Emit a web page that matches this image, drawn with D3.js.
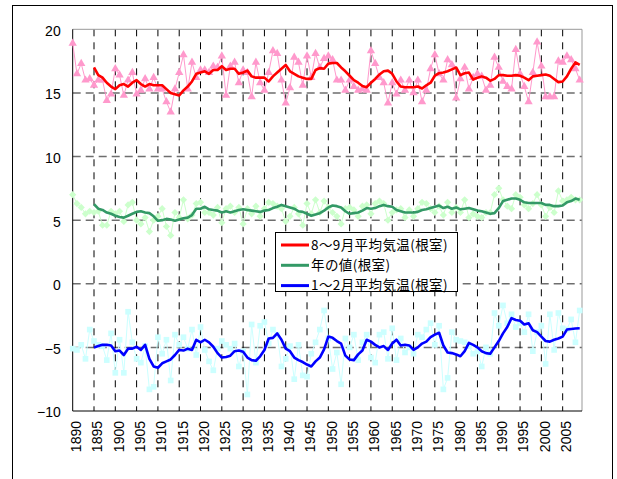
<!DOCTYPE html>
<html>
<head>
<meta charset="utf-8">
<script src="https://cdn.jsdelivr.net/npm/d3@7"></script>
<style>
  body { margin: 0; background: #fff; }
</style>
</head>
<body>
<script>

var firstYear = 1890, lastYear = 2009, avgStart = 1895;

// 8~9月平均気温 (raw, 1890-2009)
var augSep = [
 18.9,16.5,17.3,16.0,16.1,15.6,16.0,16.0,14.4,14.9,
 16.9,16.4,14.8,16.0,16.6,14.9,15.2,16.1,15.3,16.2,
 15.3,15.3,14.3,13.5,15.3,16.6,18.0,15.3,17.4,16.2,
 16.8,16.8,16.6,17.1,17.0,17.9,14.8,17.1,17.4,15.8,
 16.8,16.6,14.7,17.4,15.8,15.2,16.6,18.3,18.1,16.0,
 14.2,15.4,17.8,17.4,15.6,17.9,16.2,18.1,17.0,17.7,
 17.9,17.6,16.0,16.0,15.2,16.0,15.5,15.2,15.3,15.2,
 18.3,17.3,16.2,15.8,14.2,15.8,14.9,16.0,15.2,16.0,
 15.0,16.0,14.3,15.2,16.9,18.0,16.5,16.0,17.6,17.2,
 14.6,16.1,17.0,15.3,16.2,16.5,16.3,15.2,15.6,17.8,
 17.0,15.9,15.5,15.3,18.4,16.5,15.5,14.3,16.6,19.0,
 17.1,14.7,14.7,14.7,17.5,17.4,17.9,17.6,16.9,16.0];

// smoothed line, 1895-2009
var augSepAvg = [
 17.0,16.4,16.2,15.8,15.5,15.3,15.6,15.7,15.5,15.8,
 16.0,15.7,15.5,15.7,15.6,15.6,15.6,15.3,15.0,14.9,
 14.8,15.2,15.5,15.9,16.5,16.6,16.7,16.5,16.8,16.8,
 17.1,16.8,16.9,16.9,16.5,16.6,16.75,16.3,16.2,16.2,
 16.2,15.9,16.3,16.6,16.9,17.2,16.7,16.5,16.3,16.2,
 16.1,16.1,16.8,16.95,16.9,17.3,17.35,17.35,17.0,16.7,
 16.35,16.0,15.8,15.55,15.45,15.8,16.1,16.45,16.7,16.75,
 16.5,15.9,15.5,15.45,15.45,15.45,15.5,15.35,15.6,15.8,
 16.35,16.55,16.6,16.7,16.85,17.0,16.4,16.55,16.6,16.05,
 16.2,16.3,16.2,15.95,16.1,16.4,16.4,16.35,16.35,16.4,
 16.35,16.2,16.0,16.3,16.35,16.4,16.45,16.35,16.1,15.85,
 15.9,16.3,16.9,17.4,17.2];

// 年の値 (raw)
var annual = [
 7.0,6.3,6.0,5.5,5.7,5.6,5.7,4.6,4.6,5.7,
 5.5,5.7,4.9,6.2,6.4,5.0,4.7,5.2,4.1,5.0,
 5.3,5.9,4.5,3.8,5.6,5.2,6.6,5.1,5.4,6.3,
 6.4,5.6,5.6,5.4,6.0,4.8,5.9,6.1,5.6,6.0,
 4.7,5.9,5.5,6.1,5.3,5.9,6.4,6.3,6.1,5.9,
 4.9,5.3,6.0,5.5,4.6,6.3,5.5,6.6,5.6,6.5,
 6.0,5.6,5.3,4.7,5.9,6.0,5.8,5.3,6.1,6.2,
 5.5,6.3,6.5,6.3,5.0,5.6,5.8,5.9,5.2,5.8,
 5.3,5.9,6.4,6.3,5.9,5.6,6.1,5.4,6.4,5.6,
 6.0,5.6,6.6,5.2,5.5,5.3,5.2,5.6,5.6,7.0,
 7.5,6.6,6.1,5.9,7.0,6.8,6.2,5.9,6.3,7.0,
 6.2,5.3,6.0,5.6,7.3,6.5,6.6,6.8,6.6,6.6];

var annualAvg = [
 6.25,5.9,5.8,5.6,5.5,5.35,5.25,5.2,5.35,5.5,
 5.65,5.7,5.6,5.55,5.3,4.95,5.0,5.1,5.05,4.95,
 5.05,5.15,5.2,5.4,5.9,5.9,6.05,5.85,5.8,5.75,
 5.6,5.7,5.6,5.7,5.8,5.85,5.8,5.75,5.7,5.65,
 5.75,5.8,5.95,6.05,6.2,6.1,6.0,5.9,5.7,5.65,
 5.5,5.35,5.45,5.55,5.75,6.0,6.15,6.1,6.0,5.7,
 5.5,5.55,5.6,5.75,5.95,5.9,5.95,6.1,6.2,6.1,
 6.05,5.8,5.7,5.6,5.6,5.6,5.65,5.8,5.85,5.95,
 6.05,6.15,5.95,6.05,5.9,6.0,5.85,5.9,5.95,5.85,
 5.75,5.7,5.6,5.5,5.55,5.95,6.5,6.6,6.7,6.7,
 6.6,6.4,6.35,6.35,6.35,6.35,6.2,6.2,6.1,6.1,
 6.15,6.4,6.5,6.7,6.6];

// 1~2月平均気温 (raw)
var janFeb = [
 -5.1,-5.2,-4.8,-5.9,-3.6,-4.5,-4.8,-4.9,-6.0,-3.9,
 -7.0,-4.4,-7.0,-2.2,-4.6,-5.9,-6.2,-4.9,-8.3,-8.1,
 -4.2,-5.5,-4.4,-7.6,-4.0,-4.8,-4.2,-5.1,-3.6,-5.6,
 -3.4,-5.2,-6.1,-6.8,-5.1,-4.5,-4.8,-5.1,-4.7,-6.5,
 -5.3,-8.7,-3.2,-6.2,-3.3,-3.0,-4.7,-3.6,-4.0,-6.5,
 -5.9,-4.9,-7.5,-4.8,-7.2,-7.3,-5.5,-4.6,-3.6,-2.1,
 -4.3,-6.7,-5.4,-7.9,-4.3,-5.0,-4.0,-6.0,-4.6,-4.0,
 -5.8,-6.2,-4.0,-3.8,-5.9,-3.5,-6.0,-4.3,-5.4,-5.0,
 -5.5,-4.0,-4.2,-3.6,-3.1,-4.8,-3.3,-8.3,-7.4,-3.8,
 -4.4,-4.5,-4.6,-4.9,-5.5,-5.3,-6.5,-5.0,-5.5,-2.3,
 -3.3,-1.7,-3.1,-2.4,-3.4,-3.1,-3.8,-2.4,-5.3,-3.8,
 -3.3,-6.3,-2.4,-5.2,-2.3,-3.5,-3.6,-2.8,-4.6,-2.1];

var janFebAvg = [
 -5.0,-4.9,-4.8,-4.8,-4.85,-5.3,-5.25,-5.6,-5.1,-5.1,
 -4.95,-5.2,-4.8,-5.9,-6.5,-6.6,-6.25,-6.1,-5.95,-5.6,
 -5.2,-5.25,-5.1,-5.2,-4.4,-4.6,-4.4,-4.6,-4.95,-5.45,
 -5.8,-5.75,-5.65,-5.3,-5.25,-5.35,-5.8,-6.0,-6.05,-5.7,
 -5.2,-4.3,-4.25,-3.9,-4.4,-5.1,-5.3,-5.8,-6.0,-6.15,
 -6.35,-6.5,-6.1,-5.8,-5.15,-4.15,-4.25,-4.5,-4.7,-5.65,
 -5.95,-6.0,-5.55,-5.25,-4.4,-4.55,-4.8,-5.0,-4.9,-5.2,
 -4.7,-4.4,-4.85,-4.8,-4.85,-5.2,-5.0,-4.7,-4.55,-4.2,
 -4.0,-3.85,-4.85,-5.4,-5.45,-5.55,-5.7,-5.3,-4.65,-4.8,
 -5.0,-5.3,-5.45,-5.5,-5.0,-4.5,-3.9,-3.4,-2.7,-2.85,
 -2.9,-3.2,-3.1,-3.65,-3.8,-4.15,-4.5,-4.55,-4.4,-4.3,
 -4.15,-3.6,-3.55,-3.52,-3.5];

var yTicks = [-10, -5, 0, 5, 10, 15, 20];
var yGrid = [-5, 0, 5, 10, 15];
var xTicks = d3.range(1890, 2010, 5);
var xGrid = d3.range(1895, 2010, 5);

var legendLabels = ["8～9月平均気温(根室)", "年の値(根室)", "1～2月平均気温(根室)"];
var legendColors = ["#ff0000", "#339966", "#0000ff"];

function toPoints(vals, start) {
  return vals.map(function (v, i) { return { year: start + i, v: v }; });
}

var svg = d3.select("body").append("svg")
            .attr("width", 617)
            .attr("height", 479);

svg.append("rect").attr("width", 617).attr("height", 479).attr("fill", "#fff");

// chart area border
svg.append("rect")
   .attr("x", 12.5).attr("y", 5.5)
   .attr("width", 600).attr("height", 500)
   .attr("fill", "none").attr("stroke", "#000");

// plot box (note: "top" is taken by window.top)
var pLeft = 72.7, pRight = 582, pTop = 29.3, pBottom = 411;

var x = d3.scaleLinear().domain([firstYear, lastYear]).range([pLeft, 579.7]);
var y = d3.scaleLinear().domain([-10, 20]).range([pBottom, pTop]);

// grid
svg.append("g").selectAll("line")
   .data(yGrid).enter().append("line")
   .attr("x1", pLeft).attr("x2", pRight)
   .attr("y1", function (d) { return y(d); })
   .attr("y2", function (d) { return y(d); })
   .attr("stroke", "#6e6e6e").attr("stroke-width", 1.5)
   .attr("stroke-dasharray", "8,5");

svg.append("g").selectAll("line")
   .data(xGrid).enter().append("line")
   .attr("x1", function (d) { return x(d); })
   .attr("x2", function (d) { return x(d); })
   .attr("y1", pTop).attr("y2", pBottom)
   .attr("stroke", "#000").attr("stroke-width", 1)
   .attr("stroke-dasharray", "7,6");

// plot frame
svg.append("path")
   .attr("d", "M" + pLeft + "," + pTop + "H" + pRight + "V" + pBottom)
   .attr("fill", "none").attr("stroke", "#999");
svg.append("path")
   .attr("d", "M" + pLeft + "," + pTop + "V" + pBottom + "H" + pRight)
   .attr("fill", "none").attr("stroke", "#000");

// axes
var yAxis = svg.append("g")
   .attr("transform", "translate(" + pLeft + ",1.5)")
   .call(d3.axisLeft(y).tickValues(yTicks).tickSize(0).tickPadding(12));
yAxis.select(".domain").remove();
yAxis.selectAll("text")
   .attr("font-family", "'Liberation Sans', Arial, sans-serif")
   .attr("font-size", 14).attr("fill", "#000");

var xAxis = svg.append("g")
   .attr("transform", "translate(0," + pBottom + ")")
   .call(d3.axisBottom(x).tickValues(xTicks).tickFormat(d3.format("d")).tickSize(0));
xAxis.select(".domain").remove();
xAxis.selectAll("text")
   .attr("font-family", "'Liberation Sans', Arial, sans-serif")
   .attr("font-size", 14).attr("fill", "#000")
   .attr("transform", "rotate(-90)")
   .attr("x", -10).attr("y", 3).attr("dy", "0.35em")
   .style("text-anchor", "end");

var line = d3.line()
   .x(function (d) { return x(d.year); })
   .y(function (d) { return y(d.v); });

// raw series: thin light line + markers
function rawSeries(vals, color, symbol, size, rotate) {
  var pts = toPoints(vals, firstYear);
  svg.append("path").datum(pts)
     .attr("d", line)
     .attr("fill", "none").attr("stroke", color).attr("stroke-width", 1);
  svg.append("g").selectAll("path")
     .data(pts).enter().append("path")
     .attr("d", d3.symbol().type(symbol).size(size))
     .attr("transform", function (d) {
        return "translate(" + x(d.year) + "," + y(d.v) + ")" + (rotate ? " rotate(45)" : "");
     })
     .attr("fill", color);
}

rawSeries(augSep, "#ff99cc", d3.symbolTriangle, 30, false);
rawSeries(annual, "#ccffcc", d3.symbolSquare, 26, true);
rawSeries(janFeb, "#ccffff", d3.symbolSquare, 32, false);

// smoothed lines
[[augSepAvg, legendColors[0]], [annualAvg, legendColors[1]], [janFebAvg, legendColors[2]]]
  .forEach(function (s) {
    svg.append("path").datum(toPoints(s[0], avgStart))
       .attr("d", line)
       .attr("fill", "none").attr("stroke", s[1])
       .attr("stroke-width", 2.6).attr("stroke-linejoin", "round");
  });

// legend
var legend = svg.append("g").attr("transform", "translate(275.5,232.5)");
legend.append("rect")
   .attr("width", 182).attr("height", 59)
   .attr("fill", "#fff").attr("stroke", "#000");
var item = legend.selectAll("g.item")
   .data(legendLabels).enter().append("g")
   .attr("class", "item")
   .attr("transform", function (d, i) { return "translate(0," + (12.5 + i * 20.3) + ")"; });
item.append("line")
   .attr("x1", 5.5).attr("x2", 33.5)
   .attr("stroke", function (d, i) { return legendColors[i]; })
   .attr("stroke-width", 3);
item.append("text")
   .attr("x", 35.5).attr("dy", "0.36em")
   .attr("font-family", "'Noto Sans CJK JP', sans-serif")
   .attr("font-size", 13.5)
   .attr("letter-spacing", 0.4)
   .text(function (d) { return d; });

</script>
</body>
</html>
